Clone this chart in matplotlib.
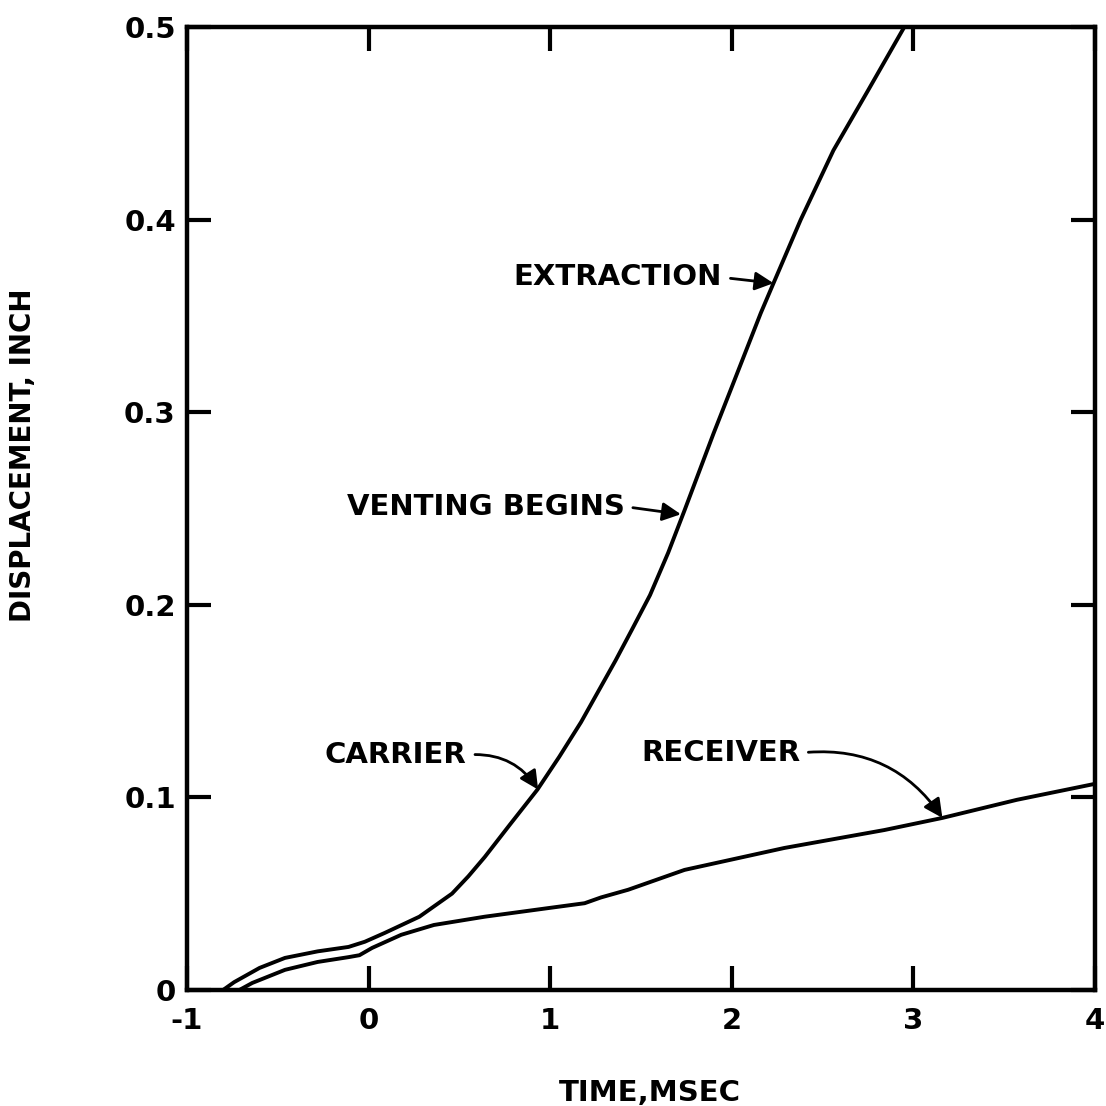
import numpy as np
import matplotlib
matplotlib.use("Agg")
import matplotlib.pyplot as plt

# Values
carrier_t = [-0.80, -0.74, -0.60, -0.46, -0.28, -0.11, -0.02, 0.09, 0.28, 0.46,
             0.55, 0.64, 0.78, 0.93, 1.05, 1.17, 1.36, 1.45, 1.55, 1.65, 1.74,
             1.90, 2.00, 2.16, 2.23, 2.38, 2.56, 2.75, 2.95]
carrier_d = [0.0, 0.004, 0.0114, 0.0166, 0.020, 0.0223, 0.025, 0.0296, 0.038, 0.050,
             0.059, 0.069, 0.086, 0.104, 0.121, 0.139, 0.171, 0.187, 0.205, 0.227, 0.249,
             0.289, 0.313, 0.3515, 0.367, 0.400, 0.436, 0.467, 0.500]

receiver_t = [-0.71, -0.64, -0.46, -0.28, -0.11, -0.05, 0.02, 0.18, 0.36, 0.64,
              1.00, 1.19, 1.28, 1.43, 1.74, 2.29, 2.84, 3.16, 3.57, 4.00]
receiver_d = [0.0, 0.0036, 0.0104, 0.0145, 0.017, 0.018, 0.0218, 0.0286, 0.0337, 0.038,
              0.0426, 0.045, 0.048, 0.052, 0.0623, 0.0737, 0.083, 0.0893, 0.0987, 0.107]

x_ticks = [-1, 0, 1, 2, 3, 4]
x_labels = ['-1', '0', '1', '2', '3', '4']
y_ticks = [0, 0.1, 0.2, 0.3, 0.4, 0.5]
y_labels = ['0', '0.1', '0.2', '0.3', '0.4', '0.5']

# label text, text position, arrow tip, curvature
notes = [
    ("EXTRACTION", (0.80, 0.370), (2.23, 0.367), 0.0),
    ("VENTING BEGINS", (-0.12, 0.251), (1.72, 0.247), 0.0),
    ("CARRIER", (-0.24, 0.122), (0.934, 0.104), -0.3),
    ("RECEIVER", (1.50, 0.123), (3.16, 0.0893), -0.3),
]

plt.rcParams['font.family'] = ['DejaVu Sans']
plt.rcParams['font.weight'] = 'bold'

fig = plt.figure(figsize=(11.06, 11.06), dpi=100)
ax = fig.add_axes([0.169, 0.105, 0.821, 0.8705])

ax.plot(carrier_t, carrier_d, color='black', lw=2.8, solid_joinstyle='round')
ax.plot(receiver_t, receiver_d, color='black', lw=2.8, solid_joinstyle='round')

ax.set_xlim(-1, 4)
ax.set_ylim(0, 0.5)
ax.set_xticks(x_ticks)
ax.set_xticklabels(x_labels)
ax.set_yticks(y_ticks)
ax.set_yticklabels(y_labels)

for s in ax.spines.values():
    s.set_linewidth(3.2)

ax.tick_params(direction='in', length=17, width=3, top=True, right=True,
               labelsize=21)
ax.tick_params(axis='x', pad=12)
ax.tick_params(axis='y', pad=8)

ax.set_xlabel("TIME,MSEC", fontsize=21, fontweight='bold')
ax.set_ylabel("DISPLACEMENT, INCH", fontsize=20, fontweight='bold')
ax.xaxis.set_label_coords(0.51, -0.093)
ax.yaxis.set_label_coords(-0.165, 0.555)

for label, xt, tip, rad in notes:
    ax.annotate(label, xy=tip, xytext=xt, ha='left', va='center',
                fontsize=21, fontweight='bold',
                arrowprops=dict(arrowstyle='-|>', color='black', lw=2,
                                mutation_scale=28, shrinkA=4, shrinkB=0,
                                relpos=(1.0, 0.5),
                                connectionstyle='arc3,rad=%s' % rad))

fig.savefig("out.png", dpi=100)
